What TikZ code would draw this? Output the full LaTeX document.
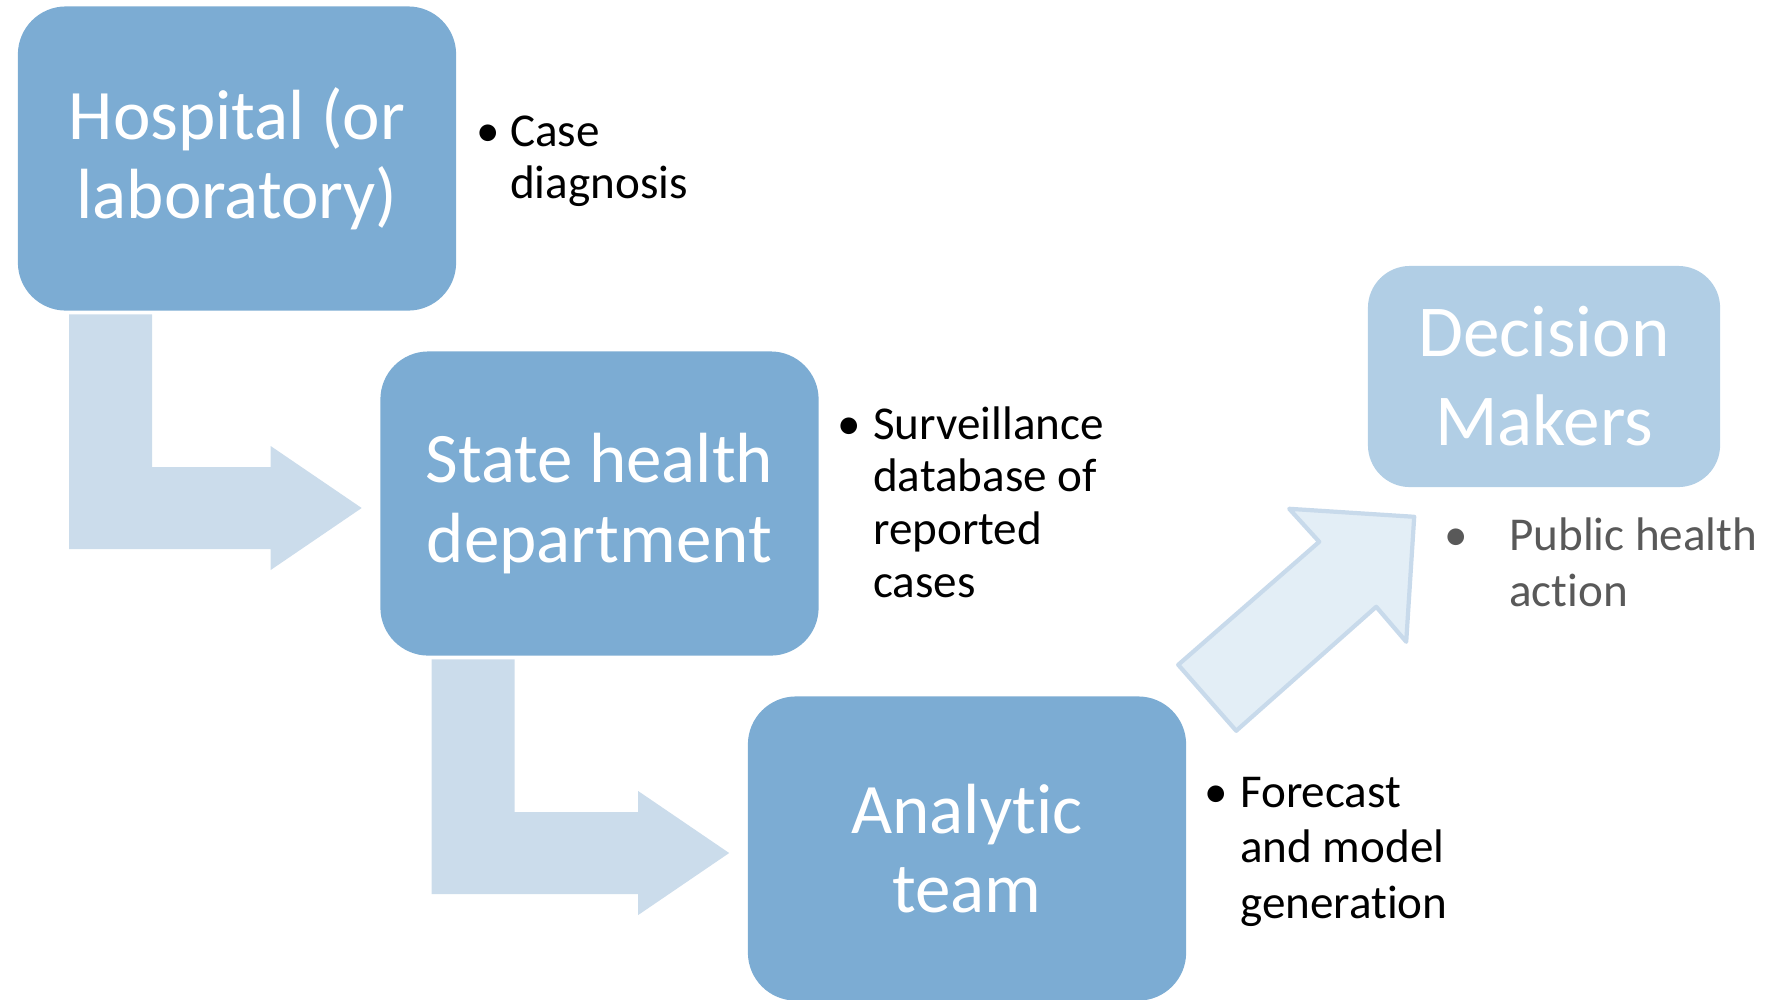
\documentclass[tikz,border=0pt]{standalone}
\usepackage{fontspec}
\setmainfont{Carlito}[Ligatures=NoCommon]
\usetikzlibrary{calc}

\definecolor{boxblue}{RGB}{124,172,211}
\definecolor{paleblue}{RGB}{177,206,229}
\definecolor{arrowblue}{RGB}{203,220,235}
\definecolor{faintfill}{RGB}{227,238,246}
\definecolor{faintline}{RGB}{200,218,235}
\definecolor{notegray}{RGB}{89,89,89}

\tikzset{
  stage/.style={fill=boxblue, rounded corners=0.48cm, minimum width=4.38cm,
    minimum height=3.04cm, align=center, text=white, inner sep=0pt,
    font=\fontsize{20.2}{22.5}\selectfont},
  note/.style={anchor=base west, inner sep=0pt,
    font=\fontsize{13.4}{15}\selectfont},
}

% bullet + wrapped text, first line on the node's baseline
\newcommand{\notelist}[2]{\begin{tabular}[t]{@{}l@{\hspace{#1}}l@{}}#2\end{tabular}}

\begin{document}
\begin{tikzpicture}[x=0.01cm, y=-0.01cm]
        \useasboundingbox (0,0) rectangle (1774,999);

        % Stages
        \node[stage] (hosp) at (237,158.5) {Hospital (or\\laboratory)};
        \node[stage] (state) at (599.5,503.5) {State health\\department};
        \node[stage] (ana) at (967,848.5) {Analytic\\team};
        \node[stage, fill=paleblue, minimum width=3.52cm, minimum height=2.21cm,
          rounded corners=0.42cm, font=\fontsize{20.8}{25.3}\selectfont]
          (dec) at (1544,376.5) {Decision\\Makers};

        % Bent arrows
        \coordinate (a1) at ($(hosp.south west)+(52,3)$);
        \coordinate (t1) at ($(state.west)+(-18,4.5)$);
        \fill[arrowblue] (a1) -- ++(83,0) |- ($(t1)+(-91,-41)$) -- ($(t1)+(-91,-62)$)
          -- (t1) -- ($(t1)+(-91,62)$) -- ($(t1)+(-91,41)$) -| cycle;

        \coordinate (a2) at ($(state.south west)+(52,3)$);
        \coordinate (t2) at ($(ana.west)+(-18,4.5)$);
        \fill[arrowblue] (a2) -- ++(83,0) |- ($(t2)+(-91,-41)$) -- ($(t2)+(-91,-62)$)
          -- (t2) -- ($(t2)+(-91,62)$) -- ($(t2)+(-91,41)$) -| cycle;

        % Arrow up to the decision makers
        \coordinate (t3) at ($(dec.south west)+(47,29)$);
        \begin{scope}[shift={(t3)}]
          \filldraw[fill=faintfill, draw=faintline, line width=1.2pt, line join=round]
            (0,0) -- (-125,-8) -- (-95,25) -- (-236,148) -- (-178,214)
            -- (-38,90) -- (-8,125) -- cycle;
        \end{scope}

        % Notes
        \node[note] (casenote) at (476,146)
          {\notelist{0.10cm}{\textbullet & Case\\ & diagnosis}};
        \node[note] (survnote) at (837,439)
          {\notelist{0.12cm}{\textbullet & Surveillance\\ & database of\\ & reported\\ & cases}};
        \node[note, font=\fontsize{13.4}{15.9}\selectfont] (fcnote) at (1204,807)
          {\notelist{0.12cm}{\textbullet & Forecast\\ & and model\\ & generation}};
        \node[note, text=notegray, font=\fontsize{13.4}{16.2}\selectfont] (actnote) at (1444,550)
          {\notelist{0.41cm}{\textbullet & Public health\\ & action}};
\end{tikzpicture}
\end{document}
